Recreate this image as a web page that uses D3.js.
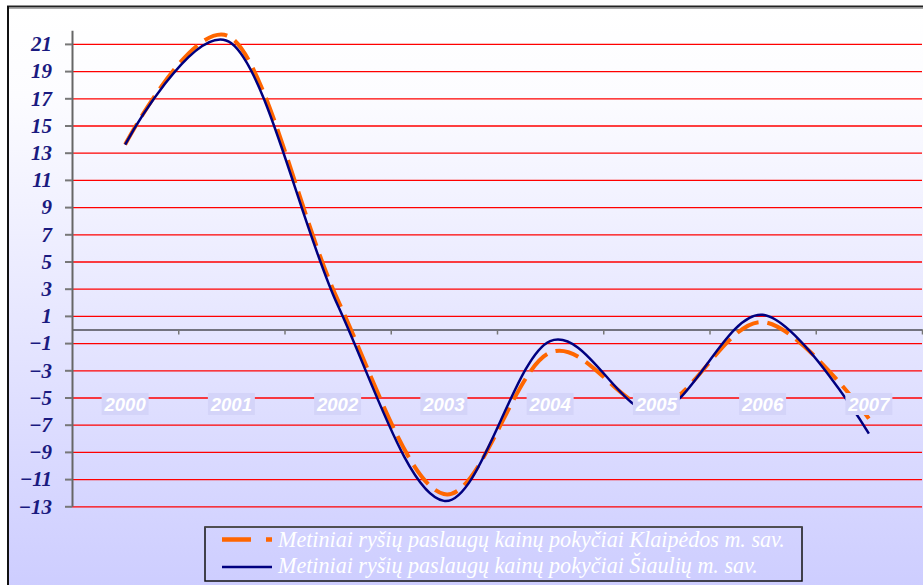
<!DOCTYPE html>
<html><head><meta charset="utf-8">
<script src="https://cdn.jsdelivr.net/npm/d3@7"></script>
<style>html,body{margin:0;padding:0;background:#fff;}svg{display:block;}</style>
</head><body>
<svg id="chart" width="923" height="585"></svg>
<script>
const categories = ["2000","2001","2002","2003","2004","2005","2006","2007"];
const klaipeda = [13.6, 21.45, 2.2, -12.1, -1.7, -5.75, 0.55, -6.55];
const siauliai = [13.6, 21.05, 1.8, -12.6, -0.85, -6.1, 1.08, -7.65];
const yTicks = d3.range(-13, 22, 2);
const seriesNames = ["Metiniai ryšių paslaugų kainų pokyčiai Klaipėdos m. sav.",
                     "Metiniai ryšių paslaugų kainų pokyčiai Šiaulių m. sav."];

const svg = d3.select("#chart");
const L = 72, R = 922;
const defs = svg.append("defs");
const grad = defs.append("linearGradient").attr("id","bg").attr("gradientUnits","userSpaceOnUse")
  .attr("x1",0).attr("y1",7).attr("x2",0).attr("y2",600);
grad.append("stop").attr("offset",0).attr("stop-color","#ffffff");
grad.append("stop").attr("offset",0.15).attr("stop-color","#fcfcff");
grad.append("stop").attr("offset",1).attr("stop-color","#ccccff");

svg.append("rect").attr("x",0).attr("y",0).attr("width",923).attr("height",585).attr("fill","#fff");
svg.append("rect").attr("x",8).attr("y",7).attr("width",915).attr("height",578).attr("fill","url(#bg)");
svg.append("line").attr("x1",7).attr("x2",923).attr("y1",6.5).attr("y2",6.5).attr("stroke","#222").attr("stroke-width",2);
svg.append("line").attr("x1",7).attr("x2",923).attr("y1",8.5).attr("y2",8.5).attr("stroke","#aaa").attr("stroke-width",1);
svg.append("line").attr("x1",8).attr("x2",8).attr("y1",6).attr("y2",585).attr("stroke","#111").attr("stroke-width",2);

const x = d3.scaleBand().domain(categories).range([L, R]).paddingInner(0).paddingOuter(0);
const xb = d3.scaleLinear().domain([0, categories.length]).range([L, R]);
const y = d3.scaleLinear().domain([-13, 22]).range([506.3, 30.3]);

// gridlines
svg.append("g").attr("transform",`translate(${L},0)`)
  .call(d3.axisLeft(y).tickValues(yTicks).tickSize(-(R-L)).tickFormat(""))
  .call(g=>g.select(".domain").remove())
  .call(g=>g.selectAll(".tick line").attr("stroke","#ff0000").attr("stroke-width",1.3));

// zero axis
svg.append("g").attr("transform",`translate(0,${y(0)})`)
  .call(d3.axisBottom(xb).tickValues(d3.range(1, categories.length+1)).tickSize(5).tickSizeOuter(0).tickFormat(""))
  .call(g=>g.select(".domain").attr("stroke","#000").attr("stroke-width",1.2))
  .call(g=>g.selectAll(".tick line").attr("stroke","#777").attr("stroke-width",1.5));

const line = d3.line().x((d,i)=>x(categories[i]) + x.bandwidth()/2).y(d=>y(d)).curve(d3.curveCardinal.tension(0));

svg.append("path").datum(klaipeda).attr("d", line).attr("fill","none")
  .attr("stroke","#ff6600").attr("stroke-width",4).attr("stroke-dasharray","24,9");
svg.append("path").datum(siauliai).attr("d", line).attr("fill","none")
  .attr("stroke","#000080").attr("stroke-width",2.5);

// category labels with boxes
const labY = 404;
const lab = svg.append("g").selectAll("g").data(categories).join("g")
  .attr("transform", d=>`translate(${x(d)+x.bandwidth()/2},${labY})`);
lab.append("rect").attr("x",-23.5).attr("y",-11).attr("width",47).attr("height",22).attr("fill","#d4d4f9");
lab.append("text").text(d=>d).attr("text-anchor","middle").attr("dy","0.36em")
  .attr("font-family","'Liberation Sans', Arial, sans-serif").attr("font-weight","bold")
  .attr("font-style","italic").attr("font-size",18.5).attr("fill","#ffffff");

// y axis
svg.append("g").attr("transform",`translate(${L},0)`)
  .call(d3.axisLeft(y).tickValues(yTicks).tickSize(7).tickPadding(13).tickSizeOuter(0))
  .call(g=>g.select(".domain").attr("stroke","#666").attr("stroke-width",2))
  .call(g=>g.selectAll(".tick line").attr("stroke","#777").attr("stroke-width",2))
  .call(g=>g.selectAll(".tick text").attr("font-family","'Liberation Serif', 'Times New Roman', serif")
     .attr("font-weight","bold").attr("font-style","italic").attr("font-size",21).attr("fill","#1a1a80"));

// legend
const lg = svg.append("g");
lg.append("rect").attr("x",205).attr("y",527).attr("width",597).attr("height",54)
  .attr("fill","none").attr("stroke","#111").attr("stroke-width",1.5);
lg.append("line").attr("x1",205).attr("x2",802).attr("y1",527).attr("y2",527).attr("stroke","#555").attr("stroke-width",1.5);
lg.append("line").attr("x1",222).attr("x2",272).attr("y1",539.5).attr("y2",539.5)
  .attr("stroke","#ff6600").attr("stroke-width",4.3).attr("stroke-dasharray","29,15");
lg.append("line").attr("x1",222).attr("x2",272).attr("y1",567).attr("y2",567)
  .attr("stroke","#000080").attr("stroke-width",2.5);
const lt = lg.selectAll("text.leg").data(seriesNames).join("text").attr("class","leg")
  .attr("x",278).attr("y",(d,i)=> i===0 ? 546.5 : 573)
  .attr("font-family","'Liberation Serif', 'Times New Roman', serif").attr("font-style","italic")
  .attr("font-size",20).attr("fill","#ffffff").text(d=>d);
const w0 = lt.nodes()[0].getComputedTextLength();
const fs = 20 * 507 / w0;
lt.attr("font-size", fs);
</script>
</body></html>
